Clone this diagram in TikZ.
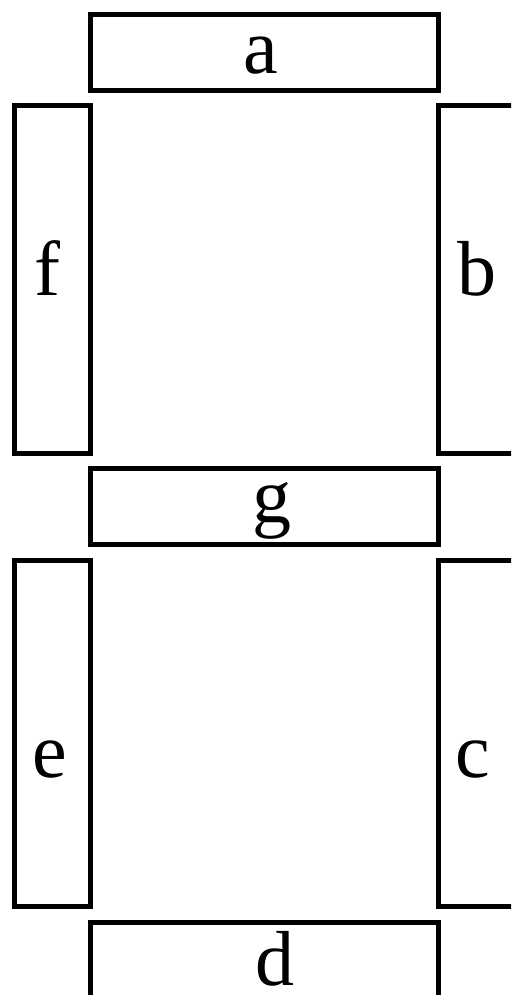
\documentclass[tikz,border=0pt]{standalone}
\usepackage{fontspec}
\setmainfont{Liberation Serif}
\usetikzlibrary{positioning}
\tikzset{
  seg/.style={draw,line width=5pt,inner sep=0pt,outer sep=0pt},
  hseg/.style={seg,minimum width=348pt,minimum height=75.5pt},
  vseg/.style={seg,minimum width=76pt,minimum height=348pt},
  lbl/.style={anchor=base,inner sep=0pt,font=\fontsize{78}{80}\selectfont}
}

\begin{document}
\begin{tikzpicture}[x=1pt,y=-1pt]
\useasboundingbox (0,0) rectangle (511,995);
\clip (0,0) rectangle (511,995);
% segments
\node[hseg] (a) at (264,52.5) {};
\node[vseg] (f) at (52.5,279.5) {};
\node[vseg] (b) at (476.5,279.5) {};
\node[hseg] (g) at (264,506.25) {};
\node[vseg,minimum height=346.5pt] (e) at (52.5,733.25) {};
\node[vseg,minimum height=346.5pt] (c) at (476.5,733.25) {};
\node[hseg] (d) at (264,959.75) {};
% letters
\node[lbl] (la) at (261,74) {a};
\node[lbl] (lf) at (47,295) {f};
\node[lbl] (lb) at (477,295) {b};
\node[lbl] (lg) at (272,522) {g};
\node[lbl] (le) at (50,777) {e};
\node[lbl] (lc) at (473,777) {c};
\node[lbl] (ld) at (275,985) {d};
\end{tikzpicture}
\end{document}
